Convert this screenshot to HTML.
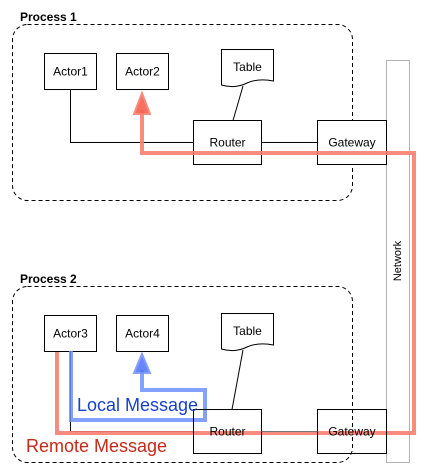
<!DOCTYPE html>
<html><head><style>body{margin:0;background:#fff}svg{display:block}</style></head>
<body>
<svg width="428" height="473" xmlns="http://www.w3.org/2000/svg" font-family="Liberation Sans, sans-serif">
<rect width="428" height="473" fill="#fff"/>
<!-- Network -->
<rect x="386.5" y="60.5" width="23" height="402" fill="#fff" stroke="#b3b3b3"/>
<text x="0" y="0" font-size="11" transform="translate(401,261) rotate(-90)" text-anchor="middle">Network</text>
<!-- Process boxes -->
<rect x="12.5" y="24.5" width="340" height="176" rx="15" fill="none" stroke="#000" stroke-dasharray="4 3"/>
<text x="20" y="21" font-size="12" font-weight="bold">Process 1</text>
<rect x="12.5" y="286.5" width="340" height="176" rx="15" fill="none" stroke="#000" stroke-dasharray="4 3"/>
<text x="20" y="283" font-size="12" font-weight="bold">Process 2</text>
<g fill="#fff" stroke="#000">
<rect x="44.5" y="53.5" width="52" height="36"/>
<rect x="116.5" y="53.5" width="52" height="36"/>
<rect x="193.5" y="120.5" width="68" height="44"/>
<rect x="317.5" y="120.5" width="69" height="44"/>
<path d="M221.5 49.5 H273.5 V81 Q258 78 247 83 Q235 89 221.5 85 Z"/>
<rect x="44.5" y="315.5" width="52" height="36"/>
<rect x="116.5" y="315.5" width="52" height="36"/>
<path d="M221.5 313.5 H273.5 V345 Q258 342 247 347 Q235 353 221.5 349 Z"/>
</g>
<g fill="none" stroke="#000">
<path d="M70.5 89.5 V142.5 H193.5"/>
<path d="M261.5 142.5 H317.5"/>
<path d="M243 86 L233 120.5"/>
<path d="M70.5 351.5 V431.5 H193.5"/>
<path d="M243 350 L232 409.5"/>
</g>
<!-- red remote path -->
<g stroke="#f88070" stroke-width="4" fill="none" opacity="0.9">
<path d="M142 110 V153 H414 V433 H57 V352"/>
</g>
<path d="M134 114 L142 93 L150 114 Z" fill="#f86050" stroke="#f88070" stroke-width="2" opacity="0.9"/>
<!-- blue local path -->
<path d="M71 351 V420 H205 V390 H142 V370" stroke="#7090ff" stroke-width="4" fill="none" opacity="0.85"/>
<path d="M134 373 L142 354 L150 373 Z" fill="#5070ff" stroke="#7090ff" stroke-width="2" opacity="0.85"/>
<rect x="193.5" y="409.5" width="68" height="44" fill="none" stroke="#000"/>
<rect x="317.5" y="409.5" width="69" height="44" fill="none" stroke="#000"/>
<path d="M261.5 431.5 H317.5" stroke="#777"/>
<g font-size="12" text-anchor="middle" fill="#000">
<text x="70.5" y="75.5">Actor1</text>
<text x="142.5" y="75.5">Actor2</text>
<text x="247.5" y="71">Table</text>
<text x="227.5" y="146.5">Router</text>
<text x="352" y="146.5">Gateway</text>
<text x="70.5" y="337.5">Actor3</text>
<text x="142.5" y="337.5">Actor4</text>
<text x="247.5" y="335">Table</text>
<text x="227.5" y="435.5">Router</text>
<text x="352" y="435.5">Gateway</text>
</g>
<text x="77" y="411" font-size="18" fill="#1a3fcc">Local Message</text>
<text x="26" y="452" font-size="18" fill="#c42a1a">Remote Message</text>
</svg>
</body></html>
